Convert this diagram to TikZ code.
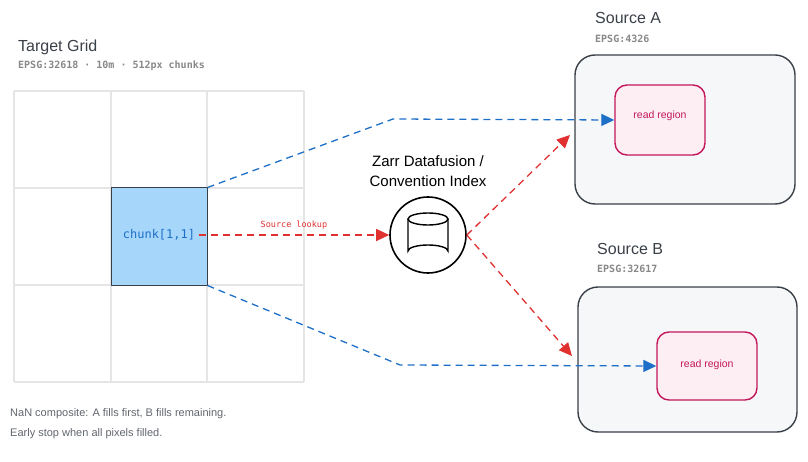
\documentclass[tikz,border=0pt]{standalone}
\usepackage{fontspec}
\setmainfont{Liberation Sans}
\setmonofont{DejaVu Sans Mono}
\usetikzlibrary{arrows.meta}
\definecolor{gridc}{HTML}{E5E5E5}
\definecolor{chunkf}{HTML}{A6D6FA}
\definecolor{blu}{HTML}{1E6FC7}
\definecolor{redc}{HTML}{E03030}
\definecolor{graytxt}{HTML}{888888}
\definecolor{dark}{HTML}{3A4048}
\definecolor{srcf}{HTML}{F6F7F9}
\definecolor{pinkf}{HTML}{FDEEF3}
\definecolor{pinkd}{HTML}{C2185B}
\tikzset{
 title/.style={anchor=west,inner sep=0,text=dark,font=\fontsize{16}{16}\selectfont},
 sub/.style={anchor=west,inner sep=0,text=graytxt,font=\ttfamily\bfseries\fontsize{10}{10}\selectfont},
 bluarr/.style={blu,line width=1.3pt,dash pattern=on 7pt off 5pt,-{Triangle[length=13pt,width=12pt]}},
 redarr/.style={redc,line width=1.3pt,dash pattern=on 7pt off 5pt,-{Triangle[length=13pt,width=12pt]}},
 src/.style={draw=dark,line width=1.4pt,fill=srcf,rounded corners=20pt},
 rr/.style={draw=pinkd,line width=1.4pt,fill=pinkf,rounded corners=12pt},
}
\begin{document}
\begin{tikzpicture}[x=1pt,y=-1pt]
\useasboundingbox (0,0) rectangle (808,462);
% grid
\node[title] (tg) at (18,47) {Target Grid};
\node[sub] (tgs) at (18,66) {EPSG:32618 · 10m · 512px chunks};
\foreach \v in {14,111,207,304} {
  \draw[gridc,line width=1.2pt] (\v,91) -- (\v,382);
}
\foreach \h in {91,188,285,382} {
  \draw[gridc,line width=1.2pt] (14,\h) -- (304,\h);
}
\node[draw=dark,line width=1pt,fill=chunkf,minimum width=96pt,minimum height=97pt,inner sep=0] (ch) at (159,236.5) {};
\node[text=blu,font=\ttfamily\fontsize{12}{12}\selectfont] (cl) at (159,235) {chunk[1,1]};
% index
\node[align=center,text=black,font=\fontsize{15}{20}\selectfont] (zt) at (428,171) {Zarr Datafusion /\\Convention Index};
\node[draw,circle,line width=1.6pt,minimum size=76pt,inner sep=0] (db) at (428,235) {};
\draw[line width=1.4pt] (408,219) -- (408,251) arc[start angle=180,end angle=360,x radius=20,y radius=6] -- (448,219);
\draw[line width=1.4pt] (428,219) ellipse[x radius=20,y radius=6];
% sources
\node[title] (sa) at (595,18) {Source A};
\node[sub] (sas) at (595,39) {EPSG:4326};
\draw[src] (575,55) rectangle (795,204);
\node[rr,minimum width=90pt,minimum height=70pt] (ra) at (660,120) {};
\node[text=pinkd,font=\fontsize{10.5}{10}\selectfont] at (660,116) {read region};
\node[title] (sb) at (597,249) {Source B};
\node[sub] (sbs) at (597,269) {EPSG:32617};
\draw[src] (578,287) rectangle (797,432);
\node[rr,minimum width=100pt,minimum height=68pt] (rb) at (707,366) {};
\node[text=pinkd,font=\fontsize{10.5}{10}\selectfont] at (707,365) {read region};
% connectors
\draw[bluarr] (ch.north east) -- (393,119) -- (ra.west);
\draw[bluarr] (ch.south east) -- (400,365) -- (rb.west);
\draw[redarr] (cl.east) -- node[above=2pt,font=\ttfamily\fontsize{8.5}{8}\selectfont,text=redc]{Source lookup} (db.west);
\draw[redarr] (db.east) -- (570,135);
\draw[redarr] (db.east) -- (572,356);
% note
\node[anchor=west,inner sep=0,text=dark!80,align=left,font=\fontsize{11}{20}\selectfont] at (10,424) {NaN composite: A fills first, B fills remaining.\\Early stop when all pixels filled.};
\end{tikzpicture}
\end{document}
